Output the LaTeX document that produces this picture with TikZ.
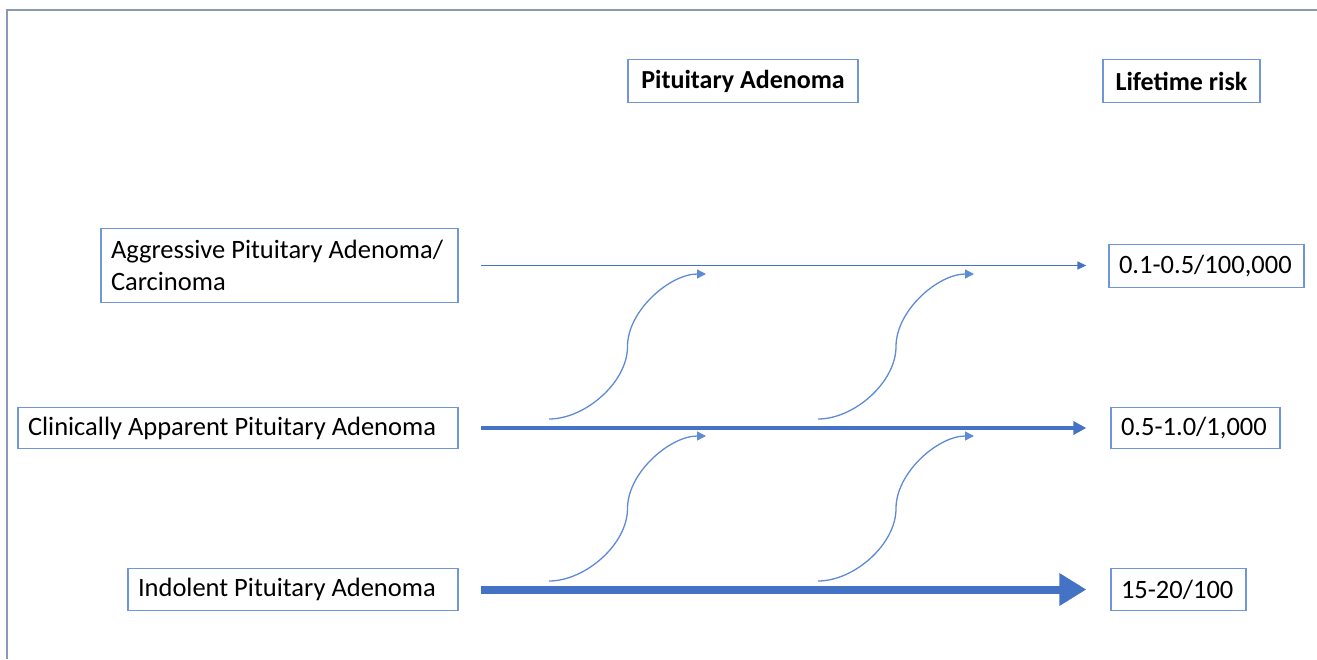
\documentclass[tikz,border=0pt]{standalone}
\usepackage{fontspec}
\setmainfont{Carlito}
\usetikzlibrary{arrows.meta,calc}
\definecolor{boxblue}{HTML}{6F95DA}
\definecolor{arrblue}{HTML}{4472C4}
\definecolor{curveblue}{HTML}{5E8AD6}
\definecolor{framegray}{HTML}{8A9AB5}
\begin{document}
\begin{tikzpicture}[x=1pt,y=-1pt,
  box/.style={draw=boxblue, line width=1.3pt, text=black, inner xsep=10pt, inner ysep=0pt,
    font=\fontsize{26.5}{31.7}\selectfont},
  headbox/.style={box, font=\fontsize{26}{31.7}\selectfont\bfseries, align=center, minimum height=43pt},
  lbox/.style={box, align=flush left},
  flowthin/.style={draw=arrblue, line width=1.4pt, -{Triangle[length=9pt,width=8pt]}, shorten <=22pt, shorten >=22pt},
  flowmid/.style={draw=arrblue, line width=3.6pt, -{Triangle[length=13pt,width=13pt]}, shorten <=22pt, shorten >=24pt},
  flowthick/.style={draw=arrblue, line width=8pt, -{Triangle[length=27pt,width=31pt]}, shorten <=22pt, shorten >=24pt},
  scurve/.style={draw=curveblue, line width=1.3pt, -{Triangle[length=9pt,width=9pt]}}
]
\useasboundingbox (0,0) rectangle (1317,659);
% frame
\draw[framegray, line width=2pt] (7,659) -- (7,10) -- (1317,10);

% headers
\node[headbox, minimum width=230pt] (pa) at (743,81) {Pituitary Adenoma};
\node[headbox, minimum width=157pt] (lr) at (1181.5,81) {Lifetime risk};

% left boxes
\node[lbox, text width=337pt, minimum height=74pt] (agg) at (279.5,265.5) {Aggressive Pituitary Adenoma/\\Carcinoma};
\node[lbox, text width=420pt, minimum height=41pt] (cli) at (238,428) {Clinically Apparent Pituitary Adenoma};
\node[lbox, text width=310pt, minimum height=42pt] (ind) at (293,589.5) {Indolent Pituitary Adenoma};

% right boxes
\node[lbox, text width=175pt, minimum height=43pt] (r1) at (1206.5,266) {0.1-0.5/100,000};
\node[lbox, text width=149pt, minimum height=41pt] (r2) at (1195.5,428) {0.5-1.0/1,000};
\node[lbox, text width=115pt, minimum height=42pt] (r3) at (1178.5,589.5) {15-20/100};

% horizontal flows
\draw[flowthin] (agg.east) -- (agg.east -| r1.west);
\draw[flowmid] (cli.east) -- (cli.east -| r2.west);
\draw[flowthick] (ind.east) -- (ind.east -| r3.west);

% s-curves
\coordinate (c1s) at (549,419);
\coordinate (c1e) at (706,274);
\coordinate (c2s) at (818,419);
\coordinate (c2e) at (974,274);
\coordinate (c3s) at (549,581);
\coordinate (c3e) at (706,436);
\coordinate (c4s) at (818,581);
\coordinate (c4e) at (974,436);
\foreach \c in {c1,c2,c3,c4}{
  \draw[scurve] (\c s) .. controls +(36,0) and +(0,36) .. ($(\c s)!0.5!(\c e)$)
     .. controls +(0,-36) and +(-36,0) .. (\c e);
}
\end{tikzpicture}
\end{document}
